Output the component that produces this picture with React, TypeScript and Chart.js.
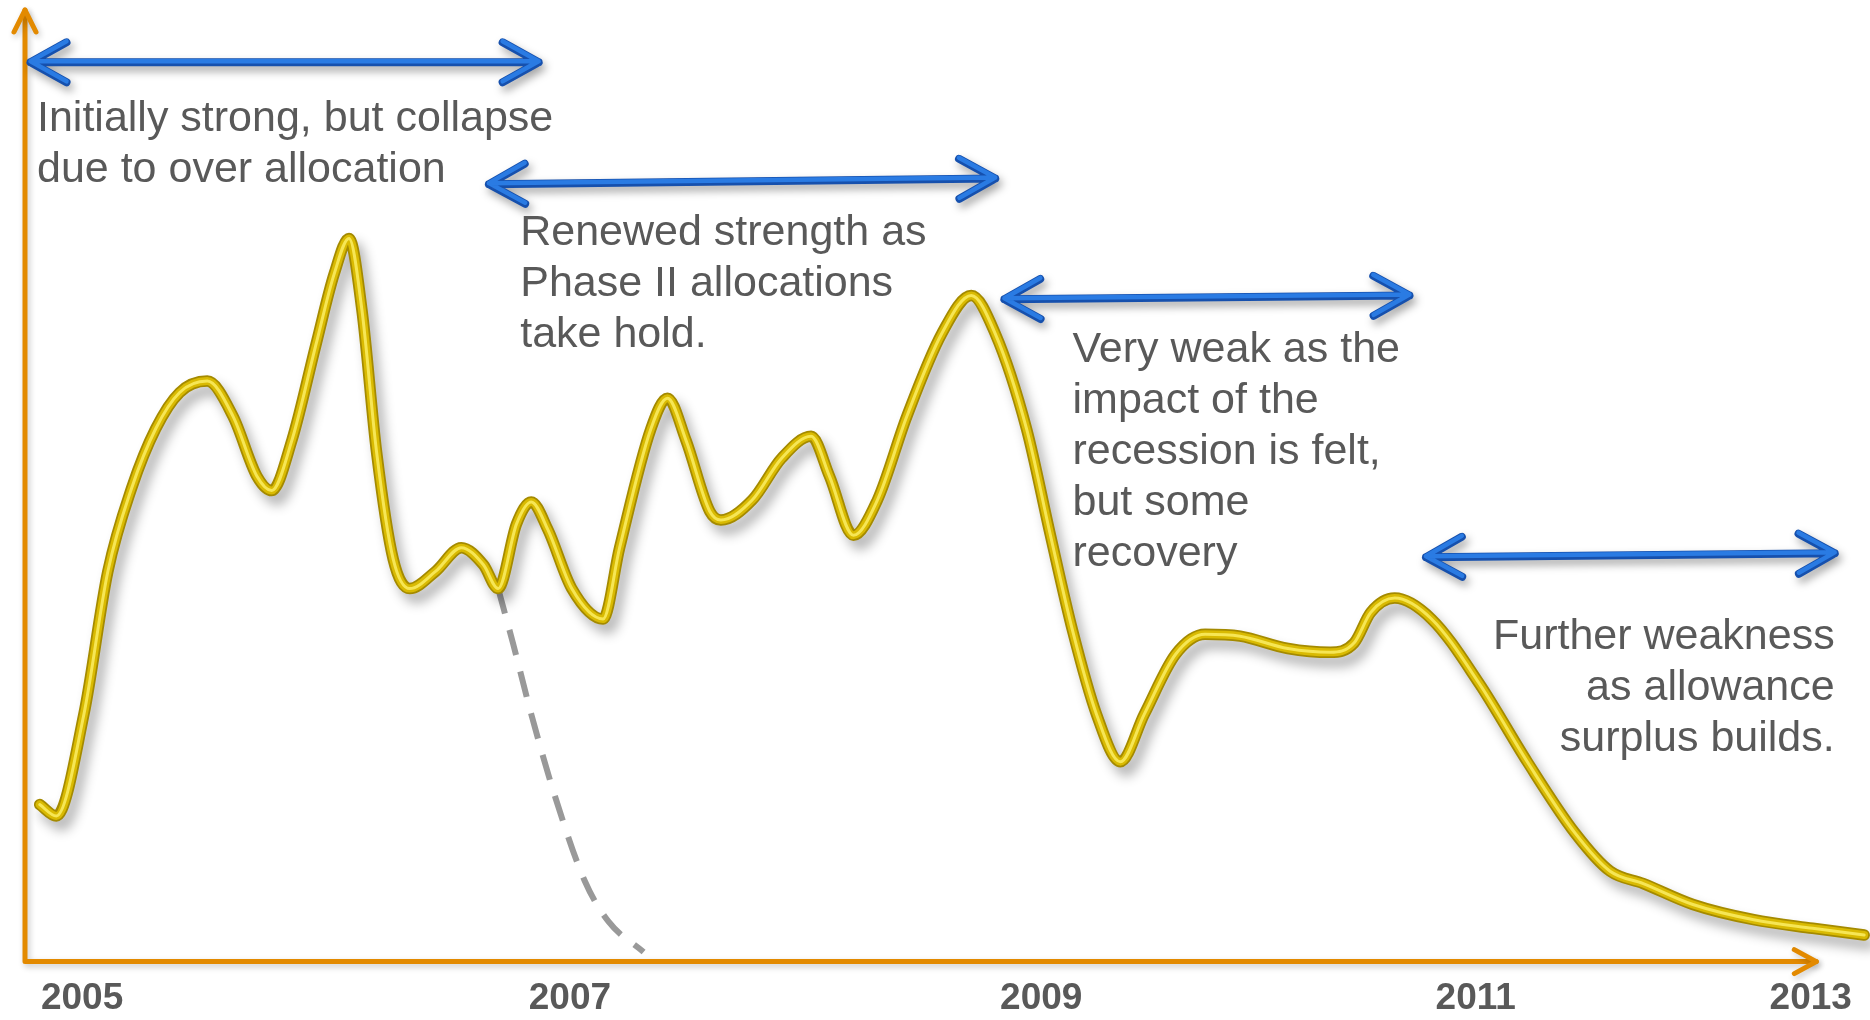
import React, { useEffect, useRef } from 'react';
import { Chart, registerables } from 'chart.js';

Chart.register(...registerables);

// ---- data (schematic: x = position along time axis 0..100, y = relative price level 0..100) ----
const curveX = [0.8, 1.7, 3.2, 4.5, 5.8, 7.1, 8.4, 9.9, 11.3, 12.6, 13.4, 14.5, 15.8, 16.8, 17.6, 18.3, 19.1, 20.0, 20.9, 22.3, 23.7, 24.9, 25.7, 26.7, 27.5, 28.4, 29.7, 31.4, 32.3, 34.0, 34.9, 35.9, 37.2, 37.8, 39.5, 41.1, 42.7, 43.7, 45.0, 46.3, 47.9, 49.8, 51.4, 52.7, 54.4, 55.7, 56.9, 58.2, 59.5, 60.8, 62.5, 64.1, 66.0, 68.6, 70.9, 72.2, 73.1, 74.4, 76.4, 79.0, 81.6, 84.2, 86.1, 87.9, 90.6, 93.9, 97.1, 99.9];
const curveY = [16.5, 15.3, 26.0, 41.0, 49.8, 56.0, 59.8, 61.0, 57.3, 51.0, 49.5, 54.8, 64.8, 72.3, 76.0, 68.5, 53.5, 42.3, 39.2, 41.0, 43.5, 41.7, 39.2, 46.0, 48.3, 45.4, 39.2, 36.0, 43.5, 56.0, 59.2, 54.8, 47.3, 46.4, 48.5, 52.9, 55.2, 51.0, 44.8, 48.5, 57.3, 66.0, 70.0, 66.0, 56.0, 44.8, 34.8, 26.0, 21.0, 26.0, 32.3, 34.4, 34.2, 32.9, 32.5, 33.5, 36.7, 38.2, 36.0, 29.2, 21.0, 13.5, 9.5, 8.2, 6.0, 4.4, 3.5, 2.8];
const dashX = [25.7, 26.5, 27.5, 28.8, 30.4, 31.7, 33.6];
const dashY = [39.2, 33.5, 26.0, 17.3, 8.5, 4.2, 1.0];

const tickPositions = [3.1, 29.6, 55.2, 78.8, 97.0];
const tickLabels = ['2005', '2007', '2009', '2011', '2013'];
const xAxisEnd = 97.3;

const arrowFrom = [0.3, 25.2, 53.2, 76.1];
const arrowTo = [27.9, 52.7, 75.2, 98.3];
const arrowLevelStart = [94.5, 81.7, 69.6, 42.5];
const arrowLevelEnd = [94.5, 82.3, 70.0, 42.9];

const note1 = ['Initially strong, but collapse', 'due to over allocation'];
const note2 = ['Renewed strength as', 'Phase II allocations', 'take hold.'];
const note3 = ['Very weak as the', 'impact of the', 'recession is felt,', 'but some', 'recovery'];
const note4 = ['Further weakness', 'as allowance', 'surplus builds.'];
const notes = [note1, note2, note3, note4];
const noteX = [0.65, 26.9, 56.9, 98.3];
const noteY = [87.3, 75.3, 63.0, 32.8];
const noteAlign: CanvasTextAlign[] = ['left', 'left', 'left', 'right'];

// ---- styles ----
const FONT = '"Liberation Sans", Arial, Helvetica, sans-serif';
const TEXT_COLOR = '#595959';
const NOTE_LINE = 51;

function drawDoubleArrow(ctx: CanvasRenderingContext2D, xa: number, ya: number, xb: number, yb: number) {
  const ang = Math.atan2(yb - ya, xb - xa);
  const ux = Math.cos(ang), uy = Math.sin(ang);
  const px = -uy, py = ux;
  const L = 36, W = 20;
  const path = () => {
    ctx.beginPath();
    ctx.moveTo(xa, ya);
    ctx.lineTo(xb, yb);
    ctx.moveTo(xa + ux * L + px * W, ya + uy * L + py * W);
    ctx.lineTo(xa, ya);
    ctx.lineTo(xa + ux * L - px * W, ya + uy * L - py * W);
    ctx.moveTo(xb - ux * L + px * W, yb - uy * L + py * W);
    ctx.lineTo(xb, yb);
    ctx.lineTo(xb - ux * L - px * W, yb - uy * L - py * W);
  };
  ctx.save();
  ctx.lineCap = 'round';
  ctx.lineJoin = 'round';
  ctx.shadowColor = 'rgba(0,0,0,0.35)';
  ctx.shadowBlur = 8;
  ctx.shadowOffsetX = 3;
  ctx.shadowOffsetY = 5;
  ctx.strokeStyle = '#1650ad';
  ctx.lineWidth = 8;
  path();
  ctx.stroke();
  ctx.shadowColor = 'transparent';
  ctx.strokeStyle = '#2a7be3';
  ctx.lineWidth = 4.5;
  ctx.translate(0, -1);
  path();
  ctx.stroke();
  ctx.restore();
}

const decorPlugin = {
  id: 'decor',
  beforeDatasetsDraw(chart: any) {
    const { ctx, scales } = chart;
    const x = scales.x, y = scales.y;
    const x0 = x.getPixelForValue(0);
    const y0 = y.getPixelForValue(0);
    const xEnd = x.getPixelForValue(xAxisEnd);
    const yTop = y.getPixelForValue(100);
    ctx.save();
    ctx.strokeStyle = '#e38a00';
    ctx.lineWidth = 5;
    ctx.lineCap = 'round';
    ctx.lineJoin = 'round';
    ctx.shadowColor = 'rgba(0,0,0,0.22)';
    ctx.shadowBlur = 6;
    ctx.shadowOffsetX = 2;
    ctx.shadowOffsetY = 3;
    ctx.beginPath();
    ctx.moveTo(x0, yTop);
    ctx.lineTo(x0, y0);
    ctx.lineTo(xEnd, y0);
    ctx.stroke();
    ctx.beginPath();
    ctx.moveTo(x0 - 11, yTop + 22);
    ctx.lineTo(x0, yTop);
    ctx.lineTo(x0 + 11, yTop + 22);
    ctx.moveTo(xEnd - 22, y0 - 12);
    ctx.lineTo(xEnd, y0);
    ctx.lineTo(xEnd - 22, y0 + 12);
    ctx.stroke();
    ctx.restore();
  },
  beforeDatasetDraw(chart: any, args: any) {
    const ds = chart.data.datasets[args.index];
    if (ds.label === 'tube-shadow') {
      const ctx = chart.ctx;
      ctx.save();
      ctx.shadowColor = 'rgba(0,0,0,0.3)';
      ctx.shadowBlur = 12;
      ctx.shadowOffsetX = 6;
      ctx.shadowOffsetY = 9;
    }
  },
  afterDatasetDraw(chart: any, args: any) {
    const ds = chart.data.datasets[args.index];
    if (ds.label === 'tube-shadow') chart.ctx.restore();
  },
  afterDatasetsDraw(chart: any) {
    const { ctx, scales } = chart;
    const x = scales.x, y = scales.y;
    for (let i = 0; i < arrowFrom.length; i++) {
      drawDoubleArrow(
        ctx,
        x.getPixelForValue(arrowFrom[i]), y.getPixelForValue(arrowLevelStart[i]),
        x.getPixelForValue(arrowTo[i]), y.getPixelForValue(arrowLevelEnd[i])
      );
    }
    ctx.save();
    ctx.font = `43px ${FONT}`;
    ctx.fillStyle = TEXT_COLOR;
    ctx.textBaseline = 'alphabetic';
    notes.forEach((lines, i) => {
      ctx.textAlign = noteAlign[i];
      const px = x.getPixelForValue(noteX[i]);
      const py = y.getPixelForValue(noteY[i]);
      lines.forEach((t, j) => ctx.fillText(t, px, py + j * NOTE_LINE));
    });
    ctx.restore();
  },
};

export default function App() {
  const ref = useRef<HTMLCanvasElement | null>(null);
  useEffect(() => {
    if (!ref.current) return;
    const curve = curveX.map((v, i) => ({ x: v, y: curveY[i] }));
    const dash = dashX.map((v, i) => ({ x: v, y: dashY[i] }));
    const common = {
      pointRadius: 0,
      pointHoverRadius: 0,
      fill: false,
      cubicInterpolationMode: 'monotone' as const,
      clip: false as any,
      borderCapStyle: 'round' as const,
      borderJoinStyle: 'round' as const,
    };
    const chart = new Chart(ref.current, {
      type: 'line',
      data: {
        datasets: [
          { ...common, label: 'tube-highlight', data: curve, borderColor: 'rgba(248,232,90,0.95)', borderWidth: 3, order: 0 },
          { ...common, label: 'tube', data: curve, borderColor: '#d9ba02', borderWidth: 8, order: 1 },
          { ...common, label: 'tube-shadow', data: curve, borderColor: '#a48a00', borderWidth: 11.5, order: 2 },
          { ...common, label: 'collapse', data: dash, borderColor: '#999999', borderWidth: 6, borderDash: [26, 17], borderCapStyle: 'butt' as const, order: 3 },
        ],
      },
      options: {
        responsive: false,
        animation: false,
        devicePixelRatio: 1,
        layout: { padding: { left: 25, right: 4, top: 10, bottom: 0 } },
        plugins: { legend: { display: false }, tooltip: { enabled: false } },
        events: [],
        scales: {
          x: {
            type: 'linear',
            min: 0,
            max: 100,
            grid: { display: false, drawTicks: false },
            border: { display: false },
            ticks: {
              autoSkip: false,
              maxRotation: 0,
              padding: 15,
              color: TEXT_COLOR,
              font: { family: FONT, size: 37, weight: 'bold', lineHeight: 1.2 },
              callback: (_v: any, i: number) => tickLabels[i] ?? '',
            },
            afterBuildTicks: (s: any) => {
              s.ticks = tickPositions.map((v) => ({ value: v }));
            },
            afterFit: (s: any) => {
              s.paddingLeft = 0;
              s.paddingRight = 0;
            },
          },
          y: { type: 'linear', min: 0, max: 100, display: false },
        },
      },
      plugins: [decorPlugin],
    });
    return () => chart.destroy();
  }, []);
  return (
    <canvas
      ref={ref}
      width={1870}
      height={1036}
      style={{ position: 'fixed', left: 0, top: 0, width: 1870, height: 1036, background: '#fff' }}
    />
  );
}
